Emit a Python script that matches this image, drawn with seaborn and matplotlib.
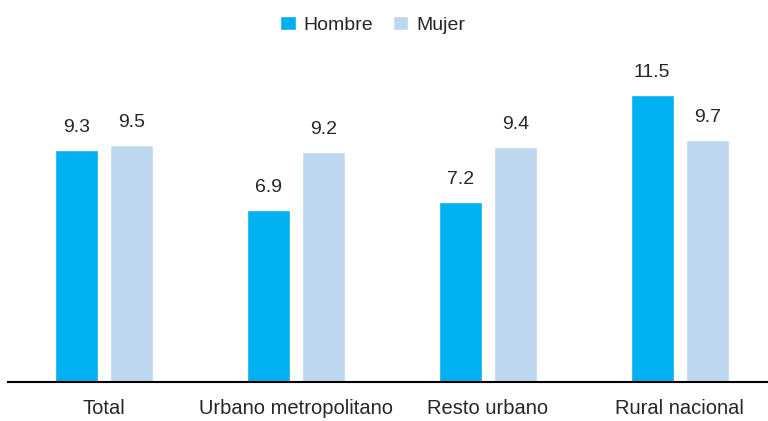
import pandas as pd
import seaborn as sns
import matplotlib.pyplot as plt

categorias = ["Total", "Urbano metropolitano", "Resto urbano", "Rural nacional"]
hombre = [9.3, 6.9, 7.2, 11.5]
mujer = [9.5, 9.2, 9.4, 9.7]

df = pd.DataFrame({
    "Categoria": categorias * 2,
    "Sexo": ["Hombre"] * 4 + ["Mujer"] * 4,
    "Valor": hombre + mujer,
})

sns.set_style("white")
plt.rcParams["font.family"] = ["Liberation Sans Narrow", "Liberation Sans", "DejaVu Sans"]

fig = plt.figure(figsize=(7.68, 4.21), dpi=100)
ax = fig.add_axes([8 / 768, 39 / 421, 1 - 8 / 768, 382 / 421])

sns.barplot(data=df, x="Categoria", y="Valor", hue="Sexo",
            palette={"Hombre": "#00B0F0", "Mujer": "#BDD7EE"},
            saturation=1, width=0.573, gap=0.218, ax=ax)

for cont in ax.containers:
    ax.bar_label(cont, fmt="%.1f", padding=10, fontsize=14)

ax.set_ylim(0, 15.3)
ax.set_xlim(-0.5, 3.46)
ax.set_xlabel("")
ax.set_ylabel("")
ax.set_yticks([])
ax.tick_params(axis="x", length=0, pad=12, labelsize=14.5)
for s in ["top", "right", "left"]:
    ax.spines[s].set_visible(False)
ax.spines["bottom"].set_color("black")
ax.spines["bottom"].set_linewidth(1.5)

ax.legend(loc="upper center", bbox_to_anchor=(0.48, 1.005), ncol=2, frameon=False,
          fontsize=14, handlelength=0.8, handleheight=0.8, handletextpad=0.4,
          columnspacing=1.0)

fig.savefig("out.png", dpi=100)
